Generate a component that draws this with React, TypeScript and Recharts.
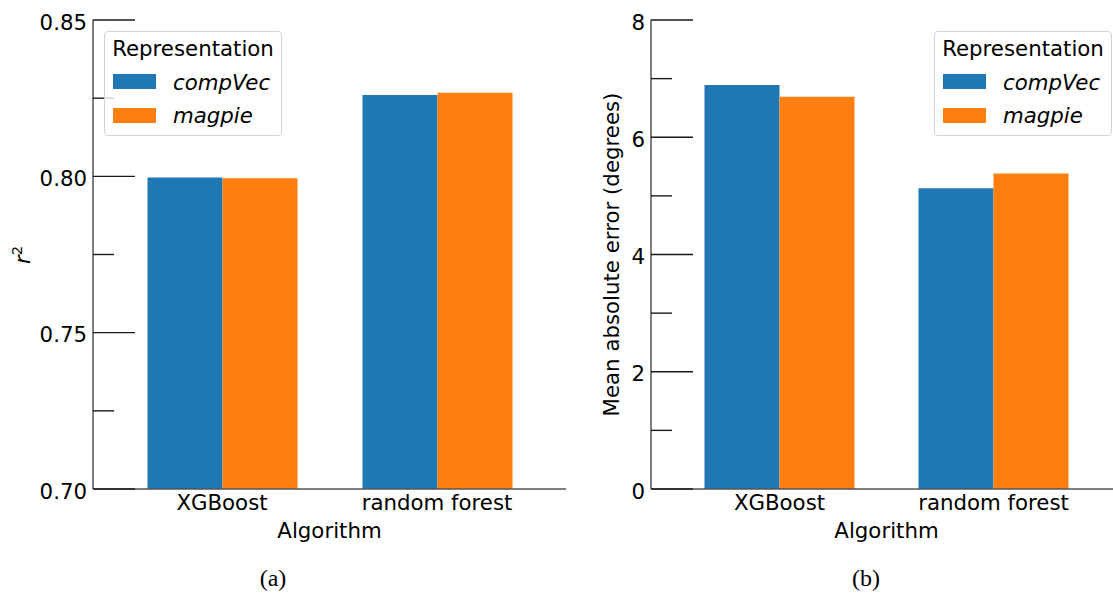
import React from 'react';
import { BarChart, Bar, XAxis, YAxis, Legend, Label } from 'recharts';

const algorithms = ['XGBoost', 'random forest'];
const seriesNames = ['compVec', 'magpie'];
const seriesColors = ['#1f77b4', '#ff7f0e'];

const r2CompVec = [0.7996, 0.826];
const r2Magpie = [0.7994, 0.8267];
const r2MajorTicks = [0.7, 0.75, 0.8, 0.85];
const r2MinorTicks = [0.725, 0.775, 0.825];

const maeCompVec = [6.89, 5.13];
const maeMagpie = [6.69, 5.38];
const maeMajorTicks = [0, 2, 4, 6, 8];
const maeMinorTicks = [1, 3, 5, 7];

const FONT = "'DejaVu Sans', sans-serif";
const FS = 21.3;
const SPINE = { stroke: '#555', strokeWidth: 1.5 };

const makeYTick = (majors: number[], fmt: (v: number) => string) => (props: any) => {
  const { x, y, payload } = props;
  const major = majors.some((m) => Math.abs(m - payload.value) < 1e-9);
  return (
    <g>
      <line x1={x} x2={x + (major ? 42 : 21)} y1={y} y2={y} stroke="#1a1a1a" strokeWidth={1.4} />
      {major && (
        <text x={x - 6} y={y + 2} textAnchor="end" dominantBaseline="central" fontSize={FS} fontFamily={FONT} fill="#000">
          {fmt(payload.value)}
        </text>
      )}
    </g>
  );
};

const LegendBox = () => (
  <div
    style={{
      position: 'relative',
      width: 178,
      height: 105,
      boxSizing: 'border-box',
      border: '1px solid #d4d4d4',
      borderRadius: 4,
      background: 'rgba(255,255,255,0.8)',
      fontFamily: FONT,
      fontSize: FS,
      color: '#000',
      lineHeight: 'normal',
    }}
  >
    <div style={{ position: 'absolute', left: 0, width: 176, top: 3.7, textAlign: 'center' }}>Representation</div>
    {seriesNames.map((name, i) => (
      <React.Fragment key={name}>
        <div style={{ position: 'absolute', left: 8, top: 42 + i * 34, width: 43, height: 15, background: seriesColors[i] }} />
        <div style={{ position: 'absolute', left: 68, top: 37.7 + i * 33, fontStyle: 'italic' }}>{name}</div>
      </React.Fragment>
    ))}
  </div>
);

interface PanelProps {
  a: number[];
  b: number[];
  domain: [number, number];
  majors: number[];
  minors: number[];
  fmt: (v: number) => string;
  yAxisWidth: number;
  marginRight: number;
  legendLeft: number;
  yLabel: React.ReactNode;
}

const Panel: React.FC<PanelProps> = ({ a, b, domain, majors, minors, fmt, yAxisWidth, marginRight, legendLeft, yLabel }) => {
  const data = algorithms.map((alg, i) => ({ algorithm: alg, compVec: a[i], magpie: b[i] }));
  const ticks = [...majors, ...minors].sort((p, q) => p - q);
  const plotCenter = yAxisWidth + (600 - yAxisWidth - marginRight) / 2;
  return (
    <BarChart width={600} height={594} data={data} margin={{ top: 20, right: marginRight, bottom: 75, left: 0 }} barGap={0}>
      <XAxis
        dataKey="algorithm"
        height={30}
        padding={{ left: 21.5, right: 21.5 }}
        tickLine={false}
        tickSize={0}
        tickMargin={6}
        tick={{ fontSize: FS, fontFamily: FONT, fill: '#000' }}
        axisLine={SPINE}
      >
        <Label
          content={() => (
            <text x={plotCenter} y={537.5} textAnchor="middle" fontSize={FS} fontFamily={FONT} fill="#000">
              Algorithm
            </text>
          )}
        />
      </XAxis>
      <XAxis xAxisId="top" orientation="top" dataKey="algorithm" height={0} tick={false} tickLine={false} axisLine={SPINE} />
      <YAxis
        width={yAxisWidth}
        domain={domain}
        ticks={ticks}
        allowDataOverflow
        interval={0}
        tickLine={false}
        tickSize={0}
        tickMargin={0}
        tick={makeYTick(majors, fmt)}
        axisLine={SPINE}
      >
        <Label content={() => yLabel} />
      </YAxis>
      <YAxis yAxisId="right" orientation="right" width={0} tick={false} tickLine={false} axisLine={SPINE} />
      <Legend
        layout="horizontal"
        align="center"
        verticalAlign="middle"
        content={() => <LegendBox />}
        wrapperStyle={{ left: legendLeft, top: 31, width: 178, height: 105 }}
      />
      <Bar dataKey="compVec" name="compVec" fill={seriesColors[0]} barSize={75} isAnimationActive={false} />
      <Bar dataKey="magpie" name="magpie" fill={seriesColors[1]} barSize={75} isAnimationActive={false} />
    </BarChart>
  );
};

const caption = (text: string, center: number) => (
  <div
    style={{
      position: 'absolute',
      left: center - 40,
      width: 80,
      top: 565,
      textAlign: 'center',
      fontFamily: "'Liberation Serif', serif",
      fontSize: 24,
      lineHeight: '26px',
      color: '#000',
    }}
  >
    {text}
  </div>
);

export default function App() {
  return (
    <div style={{ position: 'fixed', left: 0, top: 0, width: 1113, height: 594, overflow: 'hidden', background: '#fff' }}>
      <div style={{ position: 'absolute', left: 0, top: 0 }}>
        <Panel
          a={r2CompVec}
          b={r2Magpie}
          domain={[0.7, 0.85]}
          majors={r2MajorTicks}
          minors={r2MinorTicks}
          fmt={(v) => v.toFixed(2)}
          yAxisWidth={93}
          marginRight={34}
          legendLeft={104}
          yLabel={
            <text x={30} y={255} transform="rotate(-90, 30, 255)" textAnchor="middle" fontSize={FS} fontFamily={FONT} fill="#000">
              <tspan fontStyle="italic">r</tspan>
              <tspan fontSize={14.8} dy={-8}>2</tspan>
            </text>
          }
        />
      </div>
      <div style={{ position: 'absolute', left: 560, top: 0 }}>
        <Panel
          a={maeCompVec}
          b={maeMagpie}
          domain={[0, 8]}
          majors={maeMajorTicks}
          minors={maeMinorTicks}
          fmt={(v) => String(v)}
          yAxisWidth={91}
          marginRight={38}
          legendLeft={374}
          yLabel={
            <text x={59} y={254.5} transform="rotate(-90, 59, 254.5)" textAnchor="middle" fontSize={FS} fontFamily={FONT} fill="#000">
              Mean absolute error (degrees)
            </text>
          }
        />
      </div>
      {caption('(a)', 273)}
      {caption('(b)', 866)}
    </div>
  );
}
